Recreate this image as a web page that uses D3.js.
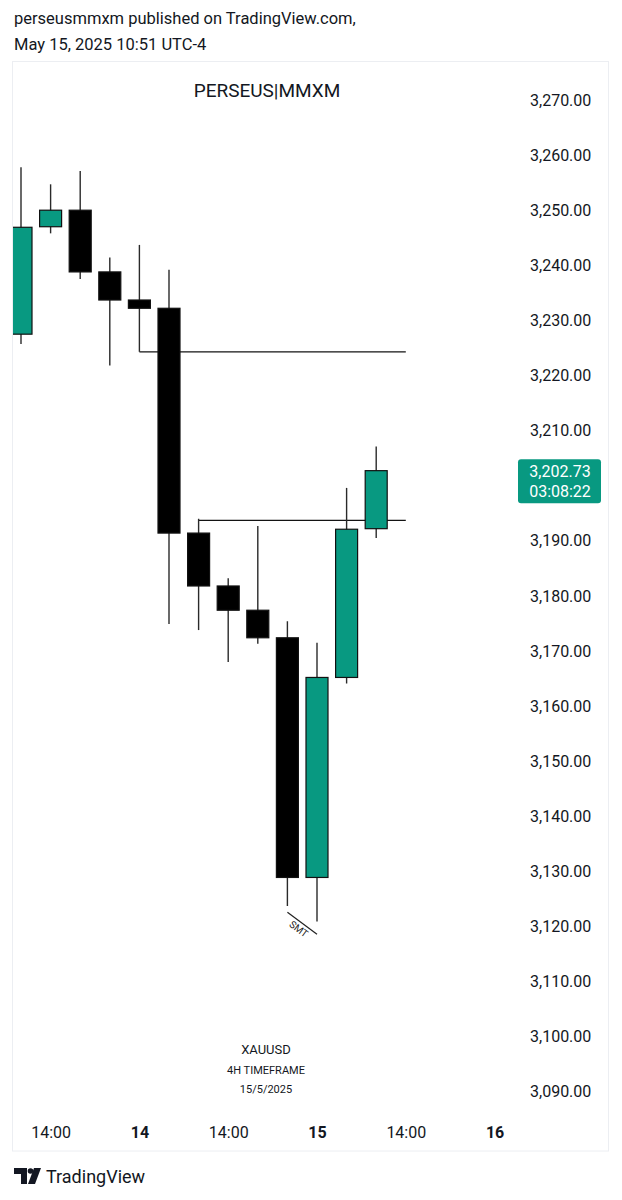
<!DOCTYPE html>
<html>
<head>
<meta charset="utf-8">
<script src="https://cdn.jsdelivr.net/npm/d3@7/dist/d3.min.js"></script>
<style>
  html, body { margin: 0; padding: 0; background: #ffffff; }
  svg { display: block; font-family: Roboto, "Noto Sans", sans-serif; }
</style>
</head>
<body>
<svg id="chart" width="622" height="1200"></svg>
<script>
// ---- data ----
const times = ["13 10:00","13 14:00","13 18:00","13 22:00","14 02:00","14 06:00","14 10:00","14 14:00","14 18:00","14 22:00","15 02:00","15 06:00","15 10:00"];
const openP  = [3227.5, 3247.0, 3250.0, 3238.8, 3233.7, 3232.2, 3191.4, 3181.8, 3177.4, 3172.4, 3128.9, 3165.2, 3192.2];
const highP  = [3257.8, 3254.7, 3257.1, 3241.4, 3243.7, 3239.2, 3194.0, 3183.2, 3192.7, 3175.4, 3171.5, 3199.6, 3207.1];
const lowP   = [3225.7, 3245.8, 3237.5, 3221.8, 3224.3, 3174.9, 3173.8, 3168.0, 3171.3, 3123.7, 3120.9, 3164.1, 3190.5];
const closeP = [3246.9, 3250.0, 3238.8, 3233.7, 3232.2, 3191.4, 3181.8, 3177.4, 3172.4, 3128.9, 3165.2, 3192.1, 3202.73];

const levelPrices = [3224.3, 3193.7];
const levelStart  = [4, 6];
const levelEnd    = 13;

const priceTicks = [3270,3260,3250,3240,3230,3220,3210,3190,3180,3170,3160,3150,3140,3130,3120,3110,3100,3090];
const timeTickIdx = [1, 4, 7, 10, 13, 16];
const timeTickLabels = ["14:00", "14", "14:00", "15", "14:00", "16"];
const timeTickBold = [false, true, false, true, false, true];

const lastPrice = 3202.73;
const countdown = "03:08:22";
const smtLine = { i0: 9, p0: 3122.6, i1: 10, p1: 3118.6, label: "SMT" };

const headerLines = ["perseusmmxm published on TradingView.com,", "May 15, 2025 10:51 UTC-4"];
const titleText = "PERSEUS|MMXM";
const footNotes = ["XAUUSD", "4H TIMEFRAME", "15/5/2025"];

// ---- setup ----
const UP = "#089981", DOWN = "#000000";
const svg = d3.select("#chart");
const x = d3.scaleLinear().domain([0, 16]).range([21, 494.6]);
const y = d3.scaleLinear().domain([3090, 3270]).range([1091.8, 100]);
const bodyW = 22;

// header
svg.selectAll("text.hdr").data(headerLines).join("text")
  .attr("x", 14).attr("y", (d, i) => 24 + i * 26)
  .attr("font-size", 16.5).attr("fill", "#131722").text(d => d);

// frame
svg.append("rect").attr("x", 12.5).attr("y", 61.5).attr("width", 596).attr("height", 1089.5)
  .attr("fill", "#fff").attr("stroke", "#eceef2").attr("stroke-width", 1);

svg.append("defs").append("clipPath").attr("id", "plot")
  .append("rect").attr("x", 13).attr("y", 62).attr("width", 497).attr("height", 1050);

const plot = svg.append("g").attr("clip-path", "url(#plot)");

// title
svg.append("text").attr("x", 267).attr("y", 97).attr("text-anchor", "middle")
  .attr("font-size", 19).attr("fill", "#131722").text(titleText);

// level lines
plot.selectAll("line.level").data(levelPrices).join("line")
  .attr("x1", (d, i) => x(levelStart[i])).attr("x2", x(levelEnd))
  .attr("y1", d => y(d)).attr("y2", d => y(d))
  .attr("stroke", "#131313").attr("stroke-width", 1.3);

// candles
const idx = d3.range(openP.length);
plot.selectAll("line.wick").data(idx).join("line")
  .attr("x1", i => x(i)).attr("x2", i => x(i))
  .attr("y1", i => y(highP[i])).attr("y2", i => y(lowP[i]))
  .attr("stroke", "#2a2a2a").attr("stroke-width", 1.4);

plot.selectAll("rect.body").data(idx).join("rect")
  .attr("x", i => x(i) - bodyW / 2)
  .attr("y", i => y(Math.max(openP[i], closeP[i])))
  .attr("width", bodyW)
  .attr("height", i => Math.max(1, Math.abs(y(openP[i]) - y(closeP[i]))))
  .attr("fill", i => closeP[i] >= openP[i] ? UP : DOWN)
  .attr("stroke", "#111").attr("stroke-width", 1.2);

// SMT annotation
const sx0 = x(smtLine.i0), sy0 = y(smtLine.p0), sx1 = x(smtLine.i1), sy1 = y(smtLine.p1);
plot.append("line").attr("x1", sx0).attr("y1", sy0).attr("x2", sx1).attr("y2", sy1)
  .attr("stroke", "#222").attr("stroke-width", 1.2);
const ang = Math.atan2(sy1 - sy0, sx1 - sx0) * 180 / Math.PI;
plot.append("text")
  .attr("transform", `translate(${(sx0 + sx1) / 2 - 4},${(sy0 + sy1) / 2 + 6.5}) rotate(${ang})`)
  .attr("text-anchor", "middle").attr("dominant-baseline", "middle")
  .attr("font-size", 10).attr("fill", "#222").text(smtLine.label);

// footnotes
const fnY = [1054, 1074, 1093], fnSize = [13, 11, 11];
svg.selectAll("text.fn").data(footNotes).join("text")
  .attr("x", 266).attr("y", (d, i) => fnY[i]).attr("text-anchor", "middle")
  .attr("font-size", (d, i) => fnSize[i]).attr("fill", "#131722").text(d => d);

// price axis
const yAxis = d3.axisRight(y).tickValues(priceTicks).tickSize(0).tickPadding(0)
  .tickFormat(d3.format(",.2f"));
const ya = svg.append("g").attr("transform", "translate(530,0)").call(yAxis);
ya.select(".domain").remove();
ya.selectAll("text").attr("font-size", 16).attr("fill", "#131722")
  .attr("font-family", "Roboto, sans-serif");

// time axis
const xAxis = d3.axisBottom(x).tickValues(timeTickIdx).tickSize(0).tickPadding(0)
  .tickFormat((d, i) => timeTickLabels[i]);
const xa = svg.append("g").attr("transform", "translate(0,1127)").call(xAxis);
xa.select(".domain").remove();
xa.selectAll("text").attr("font-size", 16).attr("fill", "#131722")
  .attr("font-family", "Roboto, sans-serif")
  .attr("font-weight", (d, i) => timeTickBold[i] ? "bold" : "normal");

// last price label
const ly = y(lastPrice);
svg.append("rect").attr("x", 518).attr("y", ly - 11.5).attr("width", 83).attr("height", 44)
  .attr("rx", 3).attr("fill", UP);
svg.append("text").attr("x", 560).attr("y", ly + 6).attr("text-anchor", "middle")
  .attr("font-size", 16).attr("fill", "#fff").text(d3.format(",.2f")(lastPrice));
svg.append("text").attr("x", 560).attr("y", ly + 26).attr("text-anchor", "middle")
  .attr("font-size", 16).attr("fill", "#fff").text(countdown);

// TradingView logo
const logo = svg.append("g").attr("fill", "#131722");
logo.append("path").attr("d", "M14,1168 H27 V1184 H21 V1174 H14 Z");
logo.append("circle").attr("cx", 30.5).attr("cy", 1171).attr("r", 2.8);
logo.append("path").attr("d", "M34,1168 H41 L35,1184 H28 Z");
svg.append("text").attr("x", 46).attr("y", 1183).attr("font-size", 18)
  .attr("fill", "#131722").text("TradingView");
</script>
</body>
</html>
